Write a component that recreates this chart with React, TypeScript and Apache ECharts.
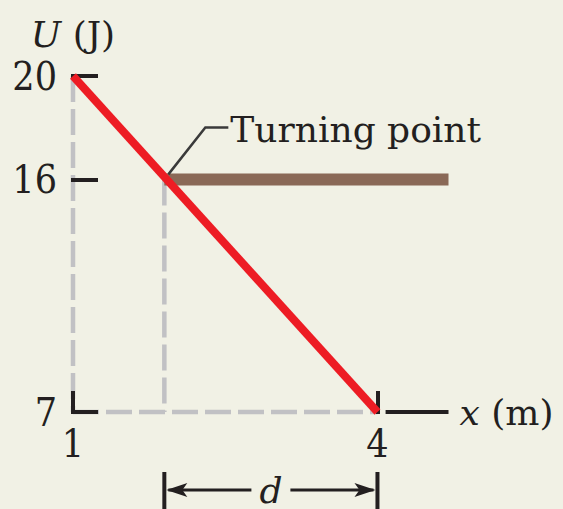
import React, { useEffect, useRef } from "react";
import * as echarts from "echarts";

// Potential energy U (J) as a function of position x (m)
const potentialLine: number[][] = [
  [1, 20],
  [4, 7],
];
// Mechanical energy level and where it meets U(x)
const energyLevel = 16;
const turningX = 1.9;
const energyEndX = 4.7;

// Axis extents and labelled values
const xMin = 1;
const xMax = 4.7;
const yMin = 7;
const yMax = 20;
const xTickValues = [1, 4];
const yTickValues = [7, 16, 20];
const axisTailStart = 4.08;

const NUM_FONT = "'DejaVu Serif Condensed', 'DejaVu Serif', serif";
const TEXT_FONT = "'DejaVu Serif', serif";
const INK = "#231f20";
const BG = "#f1f1e5";
const RED = "#ed1c24";
const BROWN = "#8a6957";
const GUIDE = "#c1c1c4";
const NUM_FS = 39;
const TEXT_FS = 36;

export default function App() {
  const ref = useRef<HTMLDivElement>(null);

  useEffect(() => {
    if (!ref.current) return;
    const chart = echarts.init(ref.current, undefined, { renderer: "svg" });

    const guideStyle = { color: GUIDE, width: 4.5, type: [26, 7] as number[] };
    const guide = (data: number[][]) => ({
      type: "line",
      data,
      symbol: "none",
      silent: true,
      clip: false,
      z: 1,
      lineStyle: guideStyle,
    });

    const nameStyle = {
      fontFamily: TEXT_FONT,
      fontSize: TEXT_FS,
      color: INK,
      rich: { i: { fontFamily: TEXT_FONT, fontSize: TEXT_FS, fontStyle: "italic", color: INK } },
    };

    chart.setOption({
      animation: false,
      backgroundColor: BG,
      grid: { left: 73, right: 114.5, top: 76, bottom: 97 },
      xAxis: {
        type: "value",
        min: xMin,
        max: xMax,
        z: 3,
        name: "{i|x} (m)",
        nameLocation: "end",
        nameGap: 11,
        nameTextStyle: nameStyle,
        axisLine: { show: false },
        splitLine: { show: false },
        axisTick: {
          show: true,
          inside: true,
          length: 19,
          customValues: xTickValues,
          lineStyle: { color: INK, width: 4, cap: "square" },
        },
        axisLabel: {
          customValues: xTickValues,
          fontFamily: NUM_FONT,
          fontSize: NUM_FS,
          color: INK,
          margin: 12,
        },
      },
      yAxis: {
        type: "value",
        min: yMin,
        max: yMax,
        z: 3,
        name: "{i|U} (J)",
        nameLocation: "end",
        nameGap: 24,
        nameTextStyle: { ...nameStyle, align: "center" },
        axisLine: { show: false },
        splitLine: { show: false },
        axisTick: {
          show: true,
          inside: true,
          length: 23,
          customValues: yTickValues,
          lineStyle: { color: INK, width: 4, cap: "square" },
        },
        axisLabel: {
          customValues: yTickValues,
          fontFamily: NUM_FONT,
          fontSize: NUM_FS,
          color: INK,
          margin: 16,
        },
      },
      series: [
        guide([
          [xMin, yMax],
          [xMin, yMin],
        ]),
        guide([
          [xMin, yMin],
          [potentialLine[1][0], yMin],
        ]),
        guide([
          [turningX, energyLevel],
          [turningX, yMin],
        ]),
        {
          type: "line",
          data: [
            [turningX, energyLevel],
            [energyEndX, energyLevel],
          ],
          symbol: "none",
          silent: true,
          clip: false,
          z: 2,
          lineStyle: { color: BROWN, width: 12, cap: "butt" },
        },
        {
          type: "line",
          data: potentialLine,
          symbol: "none",
          silent: true,
          clip: false,
          z: 4,
          lineStyle: { color: RED, width: 8, cap: "butt" },
        },
        {
          type: "line",
          data: [
            [axisTailStart, yMin],
            [xMax, yMin],
          ],
          symbol: "none",
          silent: true,
          clip: false,
          z: 5,
          lineStyle: { color: INK, width: 4 },
        },
      ],
    });

    // Annotations placed from the axis scales
    const toPx = (x: number, y: number) =>
      chart.convertToPixel({ gridIndex: 0 }, [x, y]) as number[];
    const [tx, ty] = toPx(turningX, energyLevel);
    const [x4] = toPx(potentialLine[1][0], yMin);
    const dimY = 490;
    const mid = (tx + x4) / 2;
    const gap = 19.5;

    const arrow = (tipX: number, dir: number) => ({
      type: "polygon",
      z: 10,
      shape: {
        points: [
          [tipX, dimY],
          [tipX + dir * 21, dimY - 7],
          [tipX + dir * 16, dimY],
          [tipX + dir * 21, dimY + 7],
        ],
      },
      style: { fill: INK },
    });

    chart.setOption({
      graphic: [
        {
          type: "polyline",
          z: 10,
          shape: {
            points: [
              [tx + 4, ty - 5],
              [tx + 41, ty - 52],
              [tx + 64, ty - 52],
            ],
          },
          style: { stroke: "#3a3a3a", lineWidth: 2.5, fill: null },
        },
        {
          type: "text",
          z: 10,
          x: tx + 66,
          y: ty - 50,
          style: {
            text: "Turning point",
            fontFamily: TEXT_FONT,
            fontSize: TEXT_FS,
            fill: INK,
            align: "left",
            verticalAlign: "middle",
            textAlign: "left",
            textVerticalAlign: "middle",
          },
        },
        {
          type: "line",
          z: 10,
          shape: { x1: tx, y1: 472, x2: tx, y2: 512 },
          style: { stroke: INK, lineWidth: 4 },
        },
        {
          type: "line",
          z: 10,
          shape: { x1: x4, y1: 472, x2: x4, y2: 512 },
          style: { stroke: INK, lineWidth: 4 },
        },
        {
          type: "line",
          z: 10,
          shape: { x1: tx + 4, y1: dimY, x2: mid - gap, y2: dimY },
          style: { stroke: INK, lineWidth: 3 },
        },
        {
          type: "line",
          z: 10,
          shape: { x1: mid + gap, y1: dimY, x2: x4 - 4, y2: dimY },
          style: { stroke: INK, lineWidth: 3 },
        },
        arrow(tx + 2, 1),
        arrow(x4 - 2, -1),
        {
          type: "text",
          z: 10,
          x: mid,
          y: 490,
          style: {
            text: "d",
            fontFamily: TEXT_FONT,
            fontSize: TEXT_FS,
            fontStyle: "italic",
            lineHeight: 32,
            fill: INK,
            align: "center",
            verticalAlign: "middle",
            textAlign: "center",
            textVerticalAlign: "middle",
          },
        },
      ],
    });

    return () => chart.dispose();
  }, []);

  return (
    <div
      ref={ref}
      style={{ position: "fixed", left: 0, top: 0, width: 563, height: 509 }}
    />
  );
}
